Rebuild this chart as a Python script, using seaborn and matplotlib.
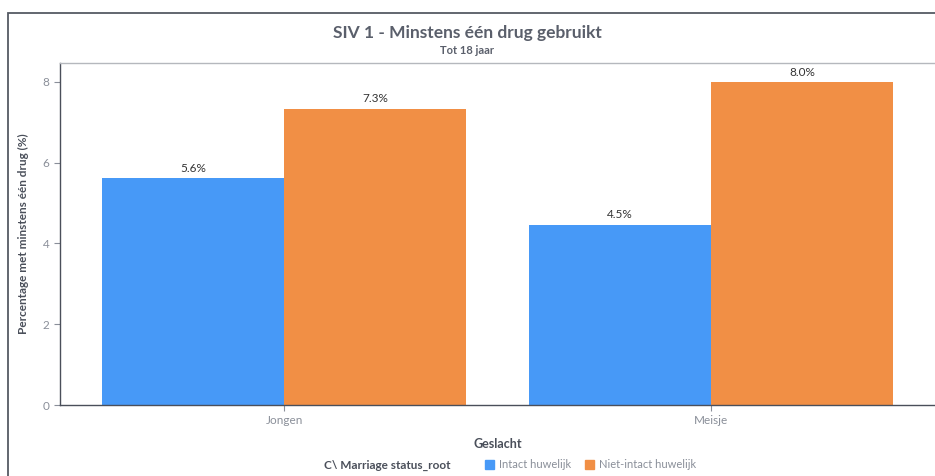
#!/usr/bin/env python3
"""SIV 1 - Minstens één drug gebruikt, grouped bars per geslacht."""
import matplotlib

matplotlib.use("Agg")
import matplotlib.pyplot as plt
import pandas as pd
import seaborn as sns
from matplotlib.patches import Rectangle

GESLACHT = ["Jongen", "Meisje"]
STATUS = ["Intact huwelijk", "Niet-intact huwelijk"]
INTACT = [5.62, 4.47]
NIET_INTACT = [7.34, 7.99]
Y_TICKS = [0, 2, 4, 6, 8]

COLORS = ["#4799f7", "#f18f45"]
DARK = "#4a4f5a"
GREY = "#8a8f99"

df = pd.DataFrame(
    {
        "Geslacht": GESLACHT * 2,
        "status": [STATUS[0]] * 2 + [STATUS[1]] * 2,
        "pct": INTACT + NIET_INTACT,
    }
)

sns.set_theme(style="white")
plt.rcParams["font.family"] = ["Lato", "DejaVu Sans"]

fig = plt.figure(figsize=(9.35, 4.76), dpi=100)
ax = fig.add_axes([60 / 935, 1 - 405 / 476, 875 / 935, 342 / 476])

sns.barplot(
    data=df,
    x="Geslacht",
    y="pct",
    hue="status",
    hue_order=STATUS,
    palette=COLORS,
    saturation=1,
    width=0.853,
    gap=0,
    legend=False,
    linewidth=0,
    ax=ax,
)
for cont in ax.containers:
    ax.bar_label(cont, fmt="%.1f%%", padding=3, fontsize=8.5, color="#333333")

ax.set_xlim(-0.525, 1.525)
ax.set_ylim(0, 8.47)
ax.set_yticks(Y_TICKS)
ax.tick_params(axis="both", labelsize=8.5, labelcolor=GREY, colors=GREY,
               length=4, width=0.8, direction="out", left=True, bottom=True)
ax.set_xlabel("Geslacht", fontsize=9, fontweight="bold", color=DARK, labelpad=8)
ax.set_ylabel("Percentage met minstens één drug (%)", fontsize=8.5,
              fontweight="bold", color=DARK, labelpad=10)
for side in ["left", "bottom"]:
    ax.spines[side].set_color(DARK)
    ax.spines[side].set_linewidth(1.0)
ax.spines["top"].set_color("#b5b8bd")
ax.spines["top"].set_linewidth(1.0)
ax.spines["right"].set_visible(False)

fig.text(0.5, 1 - 33 / 476, "SIV 1 - Minstens één drug gebruikt", ha="center",
         va="center", fontsize=12.5, fontweight="bold", color="#5a5f6b")
fig.text(0.5, 1 - 50 / 476, "Tot 18 jaar", ha="center", va="center",
         fontsize=8, fontweight="bold", color="#5a5f6b")

# legend: title on the left, entries in one row
fig.text(450 / 935, 1 - 465 / 476, "C\\ Marriage status_root", ha="right",
         va="center", fontsize=8.5, fontweight="bold", color=DARK)
handles = [Rectangle((0, 0), 1, 1, color=c) for c in COLORS]
leg = fig.legend(handles, STATUS, loc="center left",
                 bbox_to_anchor=(475 / 935, 1 - 465 / 476), ncol=2, frameon=False,
                 fontsize=8, handlelength=0.8, handleheight=0.8,
                 handletextpad=0.5, columnspacing=1.2)
for t in leg.get_texts():
    t.set_color(GREY)

# outer frame
fig.patches.append(Rectangle((8 / 935, -0.1), 1.2, 1.1 - 13 / 476,
                             transform=fig.transFigure, fill=False,
                             edgecolor="#555a63", linewidth=1.3))

fig.savefig("out.png", dpi=100)
